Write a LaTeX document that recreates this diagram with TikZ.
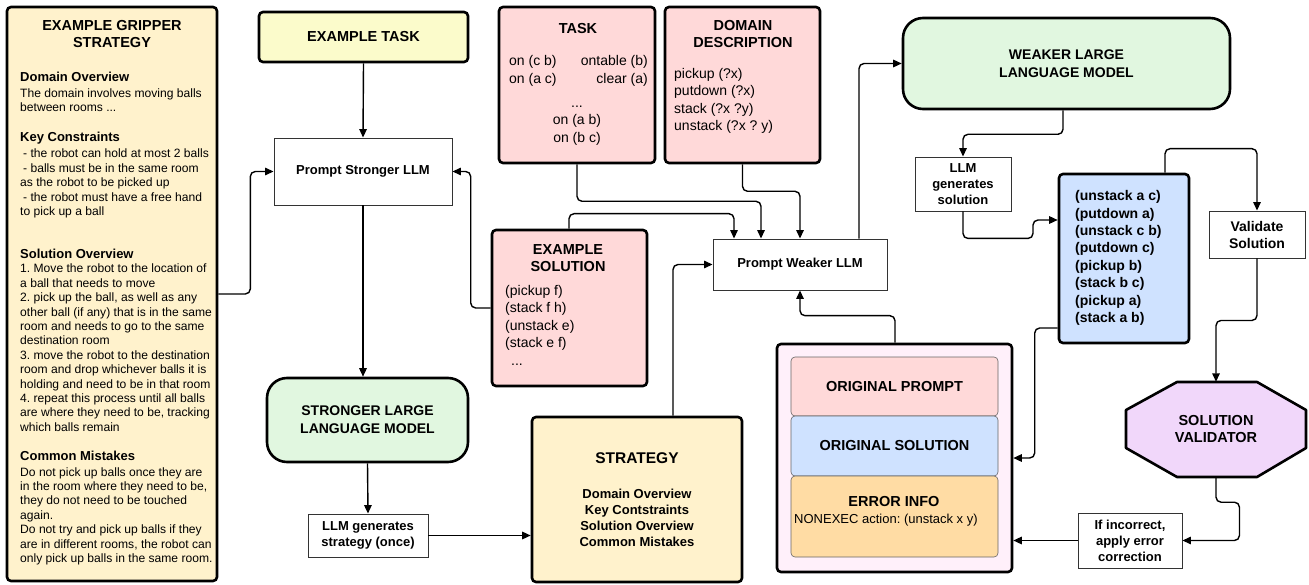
\documentclass[tikz,border=0pt]{standalone}
\usepackage{fontspec}
\setmainfont{Liberation Sans}
\usetikzlibrary{arrows.meta}
\frenchspacing

\definecolor{cream}{HTML}{FFF2CC}
\definecolor{paleyellow}{HTML}{FBFBCB}
\definecolor{palepink}{HTML}{FFD9D9}
\definecolor{palegreen}{HTML}{E1F7E0}
\definecolor{paleblue}{HTML}{CFE2FF}
\definecolor{blush}{HTML}{FFF0FA}
\definecolor{paleorange}{HTML}{FFDCA4}
\definecolor{lilac}{HTML}{F1D7FA}

\newcommand{\sechead}[1]{{\bfseries\fontsize{13}{14.4}\selectfont #1}}

\tikzset{
    heavy/.style={draw, line width=2.6pt, rounded corners=4pt, inner sep=0pt},
    light/.style={draw=black!80, line width=0.9pt, fill=white, inner sep=0pt, align=center,
        font=\bfseries\fontsize{13}{16}\selectfont},
    model/.style={draw, line width=2.6pt, rounded corners=20pt, fill=palegreen, align=center,
        font=\bfseries\fontsize{14}{18}\selectfont},
    part/.style={draw=black!60, line width=0.6pt, rounded corners=4pt, minimum width=207pt, inner sep=0pt},
    boxsize/.style 2 args={minimum width=#1, minimum height=#2},
    title/.style={font=\bfseries\fontsize{14.5}{17}\selectfont, align=center},
    plain/.style={font=\fontsize{14}{17.5}\selectfont, align=left, inner sep=0pt},
    flow/.style={->, line width=1.4pt, rounded corners=5pt},
}

\begin{document}
\begin{tikzpicture}[x=1pt, y=-1pt, >={Triangle[length=8.5pt,width=7.5pt]}]
    \useasboundingbox (0,0) rectangle (1309,585);

    % Example strategy
    \node[heavy, fill=cream, boxsize={210pt}{574pt}] (exstrat) at (112,294) {};
    \node[title] at (112,34.5) {EXAMPLE GRIPPER\\STRATEGY};
    \node[anchor=north west, align=left, inner sep=0pt, font=\fontsize{12.1}{14.4}\selectfont] (exstrattext) at (20,71.5) {%
        \sechead{Domain Overview}\\[1.5pt]
        The domain involves moving balls\\
        between rooms ...\\[15.6pt]
        \sechead{Key Constraints}\\[2pt]
        \hspace{3pt}- the robot can hold at most 2 balls\\
        \hspace{3pt}- balls must be in the same room\\
        as the robot to be picked up\\
        \hspace{3pt}- the robot must have a free hand\\
        to pick up a ball\\[28.6pt]
        \sechead{Solution Overview}\\
        1. Move the robot to the location of\\
        a ball that needs to move\\
        2. pick up the ball, as well as any\\
        other ball (if any) that is in the same\\
        room and needs to go to the same\\
        destination room\\
        3. move the robot to the destination\\
        room and drop whichever balls it is\\
        holding and need to be in that room\\
        4. repeat this process until all balls\\
        are where they need to be, tracking\\
        which balls remain\\[14.6pt]
        \sechead{Common Mistakes}\\[1.5pt]
        Do not pick up balls once they are\\
        in the room where they need to be,\\
        they do not need to be touched\\
        again.\\
        Do not try and pick up balls if they\\
        are in different rooms, the robot can\\
        only pick up balls in the same room.};

    % Stronger model column
    \node[heavy, fill=paleyellow, boxsize={209pt}{50pt}, title] (extask) at (363.5,37) {EXAMPLE TASK};
    \node[light, boxsize={178pt}{67pt}] (pstrong) at (363,171.5) {Prompt Stronger LLM};
    \node[model, boxsize={201pt}{84pt}] (strongllm) at (367.5,420) {STRONGER LARGE\\LANGUAGE MODEL};
    \node[light, boxsize={120pt}{43pt}] (genstrat) at (368,535.5) {LLM generates\\strategy (once)};

    \node[heavy, fill=cream, boxsize={210pt}{165pt}] (strategy) at (637,499.5) {};
    \node[font=\bfseries\fontsize{15.5}{18}\selectfont] at (637,458) {STRATEGY};
    \node[align=center, font=\bfseries\fontsize{13}{16}\selectfont] at (637,518)
        {Domain Overview\\Key Contstraints\\Solution Overview\\Common Mistakes};

    % Task inputs
    \node[heavy, fill=palepink, boxsize={156pt}{156pt}] (task) at (577,85) {};
    \node[title] at (578,29) {TASK};
    \node[plain, anchor=west] at (509,71) {on (c b)\\on (a c)};
    \node[plain, anchor=east, align=right] at (648,71) {ontable (b)\\clear (a)};
    \node[plain, align=center] at (577,125.5) {...\\on (a b)\\on (b c)};

    \node[heavy, fill=palepink, boxsize={155pt}{156pt}] (domain) at (742.5,85) {};
    \node[title] at (743,34.5) {DOMAIN\\DESCRIPTION};
    \node[plain, anchor=west] at (674,101) {pickup (?x)\\putdown (?x)\\stack (?x ?y)\\unstack (?x ? y)};

    \node[heavy, fill=palepink, boxsize={155pt}{156pt}] (exsol) at (569.5,308) {};
    \node[title] at (568,258.5) {EXAMPLE\\SOLUTION};
    \node[plain, anchor=west] at (505,325) {(pickup f)\\(stack f h)\\(unstack e)\\(stack e f)\\\hspace{6pt}...};

    % Weaker model side
    \node[light, boxsize={174pt}{51pt}] (pweak) at (800,264.5) {Prompt Weaker LLM};
    \node[model, boxsize={327pt}{91pt}] (weakllm) at (1066.5,63.5) {WEAKER LARGE\\LANGUAGE MODEL};
    \node[light, boxsize={96pt}{54pt}] (gensol) at (963,184) {LLM\\generates\\solution};

    \node[heavy, fill=paleblue, boxsize={130pt}{169pt}] (plan) at (1124,258.5) {};
    \node[anchor=west, align=left, inner sep=0pt, font=\bfseries\fontsize{14}{17.4}\selectfont] at (1075,258)
        {(unstack a c)\\(putdown a)\\(unstack c b)\\(putdown c)\\(pickup b)\\(stack b c)\\(pickup a)\\(stack a b)};

    \node[light, boxsize={96pt}{47pt}, font=\bfseries\fontsize{14}{17}\selectfont] (validate) at (1257,234.5) {Validate\\Solution};

    % Error correction prompt
    \node[heavy, fill=blush, boxsize={235pt}{228pt}] (errbox) at (894.5,458) {};
    \node[part, fill=palepink, minimum height=59pt, title] (origprompt) at (894.5,386.5) {ORIGINAL PROMPT};
    \node[part, fill=paleblue, minimum height=60pt, title] (origsol) at (894.5,446) {ORIGINAL SOLUTION};
    \node[part, fill=paleorange, minimum height=81pt] (errinfo) at (894.5,516.5) {};
    \node[title] at (894,502) {ERROR INFO};
    \node[anchor=west, inner sep=0pt, font=\fontsize{13}{16}\selectfont] at (794,520) {NONEXEC action: (unstack x y)};

    % Validator
    \draw[line width=2.6pt, fill=lilac, line join=round] (1177,382) -- (1257,382) -- (1306,410) -- (1306,448)
        -- (1257,477) -- (1177,477) -- (1126,448) -- (1126,410) -- cycle;
    \node[title, boxsize={180pt}{95pt}] (validator) at (1216,429.5) {SOLUTION\\VALIDATOR};
    \node[light, boxsize={104pt}{55pt}] (ifinc) at (1130,540.5) {If incorrect,\\apply error\\correction};

    % Connectors
    \draw[flow] (extask.south) -- (pstrong.north);
    \draw[flow] (exstrat.east) -- ++(32,0) |- (pstrong.west);
    \draw[flow] (exsol.west) -- ++(-20,0) |- (pstrong.east);
    \draw[flow] (pstrong.south) -- (pstrong.south |- strongllm.north);
    \draw[flow] (strongllm.south) -- (genstrat.north);
    \draw[flow] (genstrat.east) -- (genstrat.east -| strategy.west);
    \draw[flow] ([xshift=36pt]strategy.north) |- (pweak.west);
    \draw[flow] (task.south) -- ++(0,37) -| ([xshift=-39pt]pweak.north);
    \draw[flow] (domain.south) -- ++(0,27) -| (pweak.north);
    \draw[flow] ([xshift=-0.5pt]exsol.north) -- ++(0,-15) -| ([xshift=-66pt]pweak.north);
    \draw[flow] ([xshift=59pt]pweak.north) |- (weakllm.west);
    \draw[flow] ([xshift=-3.5pt]weakllm.south) -- ++(0,24) -| (gensol.north);
    \draw[flow] (gensol.south) -- ++(0,27) -- ++(70,0) |- ([yshift=38.5pt]plan.west);
    \draw[flow] ([xshift=41pt]plan.north) -- ++(0,-24) -| (validate.north);
    \draw[flow] ([yshift=-69.5pt]plan.west) -- ++(-23,0) |- (errbox.east);
    \draw[flow] (validate.south) -- ++(0,62) -| (validator.north);
    \draw[flow] (validator.south) -- ++(0,25) -| ([xshift=57pt]ifinc.east) -- (ifinc.east);
    \draw[flow] (ifinc.west) -- (ifinc.west -| errbox.east);
    \draw[flow] ([xshift=0.5pt]errbox.north) -- ++(0,-27) -| (pweak.south);
\end{tikzpicture}
\end{document}
